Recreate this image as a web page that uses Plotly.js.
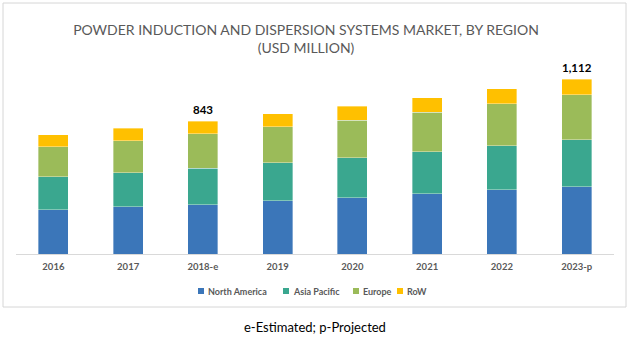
<!DOCTYPE html>
<html>
<head>
<meta charset="utf-8">
<script src="https://cdn.plot.ly/plotly-3.0.1.min.js"></script>
<style>html,body{margin:0;padding:0;background:#fff;}#chart{width:632px;height:340px;}</style>
</head>
<body>
<div id="chart"></div>
<script>
const years = ['2016', '2017', '2018-e', '2019', '2020', '2021', '2022', '2023-p'];
const northAmerica = [282, 301, 314, 339, 358, 382, 409, 428];
const asiaPacific = [210, 216, 233, 240, 254, 269, 280, 299];
const europe = [191, 204, 218, 229, 240, 252, 267, 286];
const restOfWorld = [76, 79, 78, 85, 89, 91, 95, 99];
const totalLabels = ['', '', '843', '', '', '', '', '1,112'];

const seriesNames = ['North America', 'Asia Pacific', 'Europe', 'RoW'];
const seriesValues = [northAmerica, asiaPacific, europe, restOfWorld];
const seriesColors = ['#3b76b9', '#3aa78f', '#9bbb59', '#ffc000'];

const FONT = 'Lato, "Open Sans", sans-serif';
const W = 632, H = 340;
const M = { l: 16, r: 18, t: 60, b: 86 };
const PW = W - M.l - M.r, PH = H - M.t - M.b;
// helpers converting pixel layout positions to paper fractions
const px = (x) => (x - M.l) / PW;
const py = (y) => (H - M.b - y) / PH;

const traces = seriesNames.map((name, i) => ({
  type: 'bar',
  name: name,
  x: years,
  y: seriesValues[i],
  marker: { color: seriesColors[i], line: { color: 'rgba(255,255,255,0.6)', width: 0.6 } },
  hoverinfo: 'skip',
  showlegend: false
}));

const totals = years.map((_, j) => seriesValues.reduce((s, arr) => s + arr[j], 0));
const annotations = [];
const shapes = [];
years.forEach((yr, j) => {
  if (totalLabels[j]) {
    annotations.push({
      x: yr, y: totals[j], xref: 'x', yref: 'y',
      text: totalLabels[j], showarrow: false,
      yanchor: 'bottom', yshift: 3,
      font: { family: FONT, size: 11.5, color: '#000000', weight: 'bold' }
    });
  }
});

// legend (drawn as a compact Excel-style row)
const legendSymbolX = [198, 283, 353, 397];
const legendY = 291;
seriesNames.forEach((name, i) => {
  shapes.push({
    type: 'rect', xref: 'paper', yref: 'paper',
    x0: px(legendSymbolX[i]), x1: px(legendSymbolX[i] + 6),
    y0: py(legendY + 3), y1: py(legendY - 3),
    line: { width: 0 }, fillcolor: seriesColors[i]
  });
  annotations.push({
    xref: 'paper', yref: 'paper', x: px(legendSymbolX[i] + 8), y: py(legendY),
    xanchor: 'left', yanchor: 'middle', showarrow: false, text: name,
    font: { family: FONT, size: 9, color: '#595959', weight: 'bold' }
  });
});

annotations.push({
  xref: 'paper', yref: 'paper', x: px(315), y: py(326.5), xanchor: 'center', yanchor: 'middle',
  text: 'e-Estimated; p-Projected', showarrow: false,
  font: { family: FONT, size: 13, color: '#000000' }
});

shapes.push({
  type: 'rect', xref: 'paper', yref: 'paper',
  x0: px(3), x1: px(626), y0: py(307), y1: py(3),
  line: { color: '#d6d6d6', width: 1 }, fillcolor: 'rgba(0,0,0,0)', layer: 'below'
});

const layout = {
  width: W, height: H,
  margin: M,
  paper_bgcolor: '#ffffff', plot_bgcolor: '#ffffff',
  barmode: 'stack',
  bargap: 0.6,
  showlegend: false,
  title: {
    text: 'POWDER INDUCTION AND DISPERSION SYSTEMS MARKET, BY REGION<br>(USD MILLION)',
    x: 306 / W, xanchor: 'center', xref: 'container',
    y: 1 - 34.5 / H, yanchor: 'middle', yref: 'container',
    font: { family: FONT, size: 14, color: '#595959' }
  },
  xaxis: {
    type: 'category',
    showline: true, linecolor: '#d9d9d9', linewidth: 1,
    showgrid: false, zeroline: false, ticks: '',
    ticklabelstandoff: 4,
    tickfont: { family: FONT, size: 9.5, color: '#595959', weight: 'bold' }
  },
  yaxis: { visible: false, range: [0, 1234], fixedrange: true },
  annotations: annotations,
  shapes: shapes
};

Plotly.newPlot('chart', traces, layout, { staticPlot: true, displayModeBar: false });
</script>
</body>
</html>
